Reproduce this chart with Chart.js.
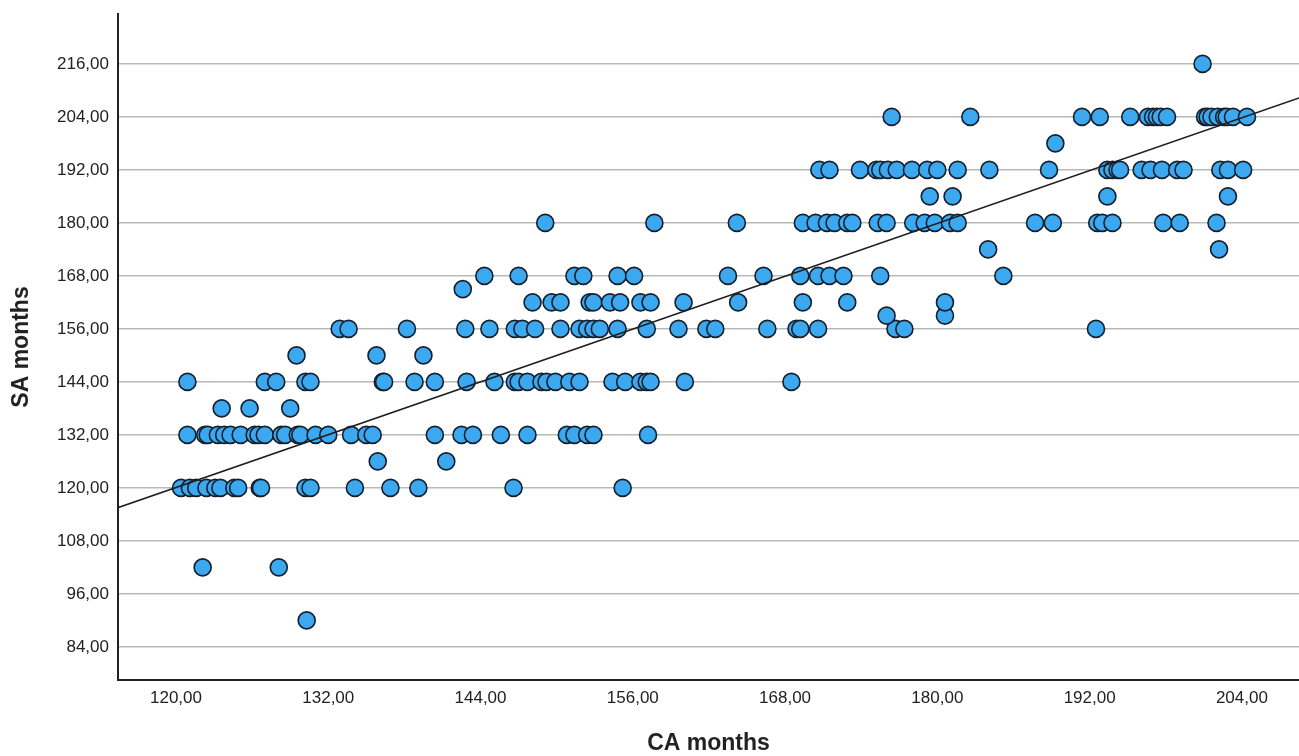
<!DOCTYPE html>
<html>
<head>
<meta charset="utf-8">
<script src="https://cdn.jsdelivr.net/npm/chart.js@4/dist/chart.umd.min.js"></script>
<style>
  body { margin: 0; background: #fff; overflow: hidden; }
  canvas { display: block; }
</style>
</head>
<body>
<canvas id="chart" width="1299" height="756"></canvas>
<script>
// SA months per row of points, and the CA months of every point on that row
const saLevels = [90, 102, 120, 126, 132, 138, 144, 150, 156, 159, 162, 165, 168, 174, 180, 186, 192, 198, 204, 216];
const caByLevel = [
  [130.3],
  [122.1, 128.1],
  [120.4, 121.1, 121.6, 122.4, 123.1, 123.5, 124.6, 124.9, 126.6, 126.7, 130.2, 130.6, 134.1, 136.9, 139.1, 146.6, 155.2],
  [135.9, 141.3],
  [120.9, 122.3, 122.5, 123.3, 123.8, 124.3, 125.1, 126.2, 126.5, 127.0, 128.3, 128.6, 129.6, 129.8, 131.0, 132.0, 133.8, 135.0, 135.5,
   140.4, 142.5, 143.4, 145.6, 147.7, 150.8, 151.4, 152.4, 152.9, 157.2],
  [123.6, 125.8, 129.0],
  [120.9, 127.0, 127.9, 130.2, 130.6, 136.3, 136.4, 138.8, 140.4, 142.9, 145.1, 146.7, 147.0, 147.7, 148.8, 149.2, 149.9, 151.0,
   151.8, 154.4, 155.4, 156.6, 157.1, 157.4, 160.1, 168.5],
  [129.5, 135.8, 139.5],
  [132.9, 133.6, 138.2, 142.8, 144.7, 146.7, 147.3, 148.3, 150.3, 151.8, 152.4, 152.9, 153.4, 154.8, 157.1, 159.6, 161.8, 162.5,
   166.6, 168.9, 169.2, 170.6, 176.7, 177.4, 192.5],
  [176.0, 180.6],
  [148.1, 149.6, 150.3, 152.6, 152.9, 154.2, 155.0, 156.6, 157.4, 160.0, 164.3, 169.4, 172.9, 180.6],
  [142.6],
  [144.3, 147.0, 151.4, 152.1, 154.8, 156.1, 163.5, 166.3, 169.2, 170.6, 171.5, 172.6, 175.5, 185.2],
  [184.0, 202.2],
  [149.1, 157.7, 164.2, 169.4, 170.4, 171.3, 171.9, 172.9, 173.3, 175.3, 176.0, 178.1, 179.0, 179.8, 181.0, 181.6, 187.7, 189.1,
   192.6, 193.0, 193.8, 197.8, 199.1, 202.0],
  [179.4, 181.2, 193.4, 202.9],
  [170.7, 171.5, 173.9, 175.2, 175.5, 176.1, 176.8, 178.0, 179.2, 180.0, 181.6, 184.1, 188.8, 193.4, 193.8, 194.2, 194.4, 196.1,
   196.8, 197.7, 198.9, 199.4, 202.3, 202.9, 204.1],
  [189.3],
  [176.4, 182.6, 191.4, 192.8, 195.2, 196.6, 197.0, 197.3, 197.6, 198.1, 201.1, 201.3, 201.6, 202.1, 202.6, 202.8, 203.3, 204.4],
  [200.9]
];

// fit line end points (CA, SA)
const fitCA = [115.4, 208.5];
const fitSA = [115.5, 208.3];

const xTicks = [120, 132, 144, 156, 168, 180, 192, 204];
const yTicks = [84, 96, 108, 120, 132, 144, 156, 168, 180, 192, 204, 216];

const points = [];
saLevels.forEach((sa, i) => {
  caByLevel[i].forEach((ca) => points.push({ x: ca, y: sa }));
});

const fmt = (v) => v.toFixed(2).replace(".", ",");
const tickFont = { family: "'Liberation Sans', Arial, sans-serif", size: 17 };
const titleFont = { family: "'Liberation Sans', Arial, sans-serif", size: 23, weight: "bold", lineHeight: 1 };

// no extra margins from tick labels, so the plot area stays where the reference has it
const noPad = (s) => {
  s.paddingLeft = 0;
  s.paddingRight = 0;
  s.paddingTop = 0;
  s.paddingBottom = 0;
};

new Chart(document.getElementById("chart"), {
  type: "scatter",
  data: {
    datasets: [
      {
        type: "line",
        data: fitCA.map((x, i) => ({ x: x, y: fitSA[i] })),
        borderColor: "#1e1e1e",
        borderWidth: 1.5,
        pointRadius: 0,
        fill: false,
        order: 0,
      },
      {
        data: points,
        backgroundColor: "#3ca8f0",
        borderColor: "#15202c",
        borderWidth: 1.6,
        pointRadius: 8.5,
        order: 1,
      },
    ],
  },
  options: {
    responsive: false,
    animation: false,
    layout: { autoPadding: false, padding: { top: 14, right: 0, left: 0, bottom: 0 } },
    plugins: { legend: { display: false }, tooltip: { enabled: false } },
    scales: {
      x: {
        type: "linear",
        min: 115.43,
        max: 208.5,
        afterBuildTicks: (s) => { s.ticks = xTicks.map((v) => ({ value: v })); },
        afterFit: (s) => { s.height = 76; noPad(s); },
        grid: { display: true, color: "rgba(0,0,0,0)", drawTicks: false },
        border: { display: true, color: "#222", width: 2 },
        ticks: { color: "#222", font: tickFont, padding: 8, maxRotation: 0, callback: (v) => fmt(v) },
        title: { display: true, text: "CA months", color: "#222", font: titleFont, padding: { top: 0, bottom: 1 } },
      },
      y: {
        type: "linear",
        min: 76.5,
        max: 227.3,
        afterBuildTicks: (s) => { s.ticks = yTicks.map((v) => ({ value: v })); },
        afterFit: (s) => { s.width = 118; noPad(s); },
        grid: { color: "#b9b9b9", lineWidth: 1.5, drawTicks: false },
        border: { display: true, color: "#222", width: 2 },
        ticks: { color: "#222", font: tickFont, padding: 9, callback: (v) => fmt(v) },
        title: { display: true, text: "SA months", color: "#222", font: titleFont, padding: { top: 10, bottom: 0 } },
      },
    },
  },
});
</script>
</body>
</html>
